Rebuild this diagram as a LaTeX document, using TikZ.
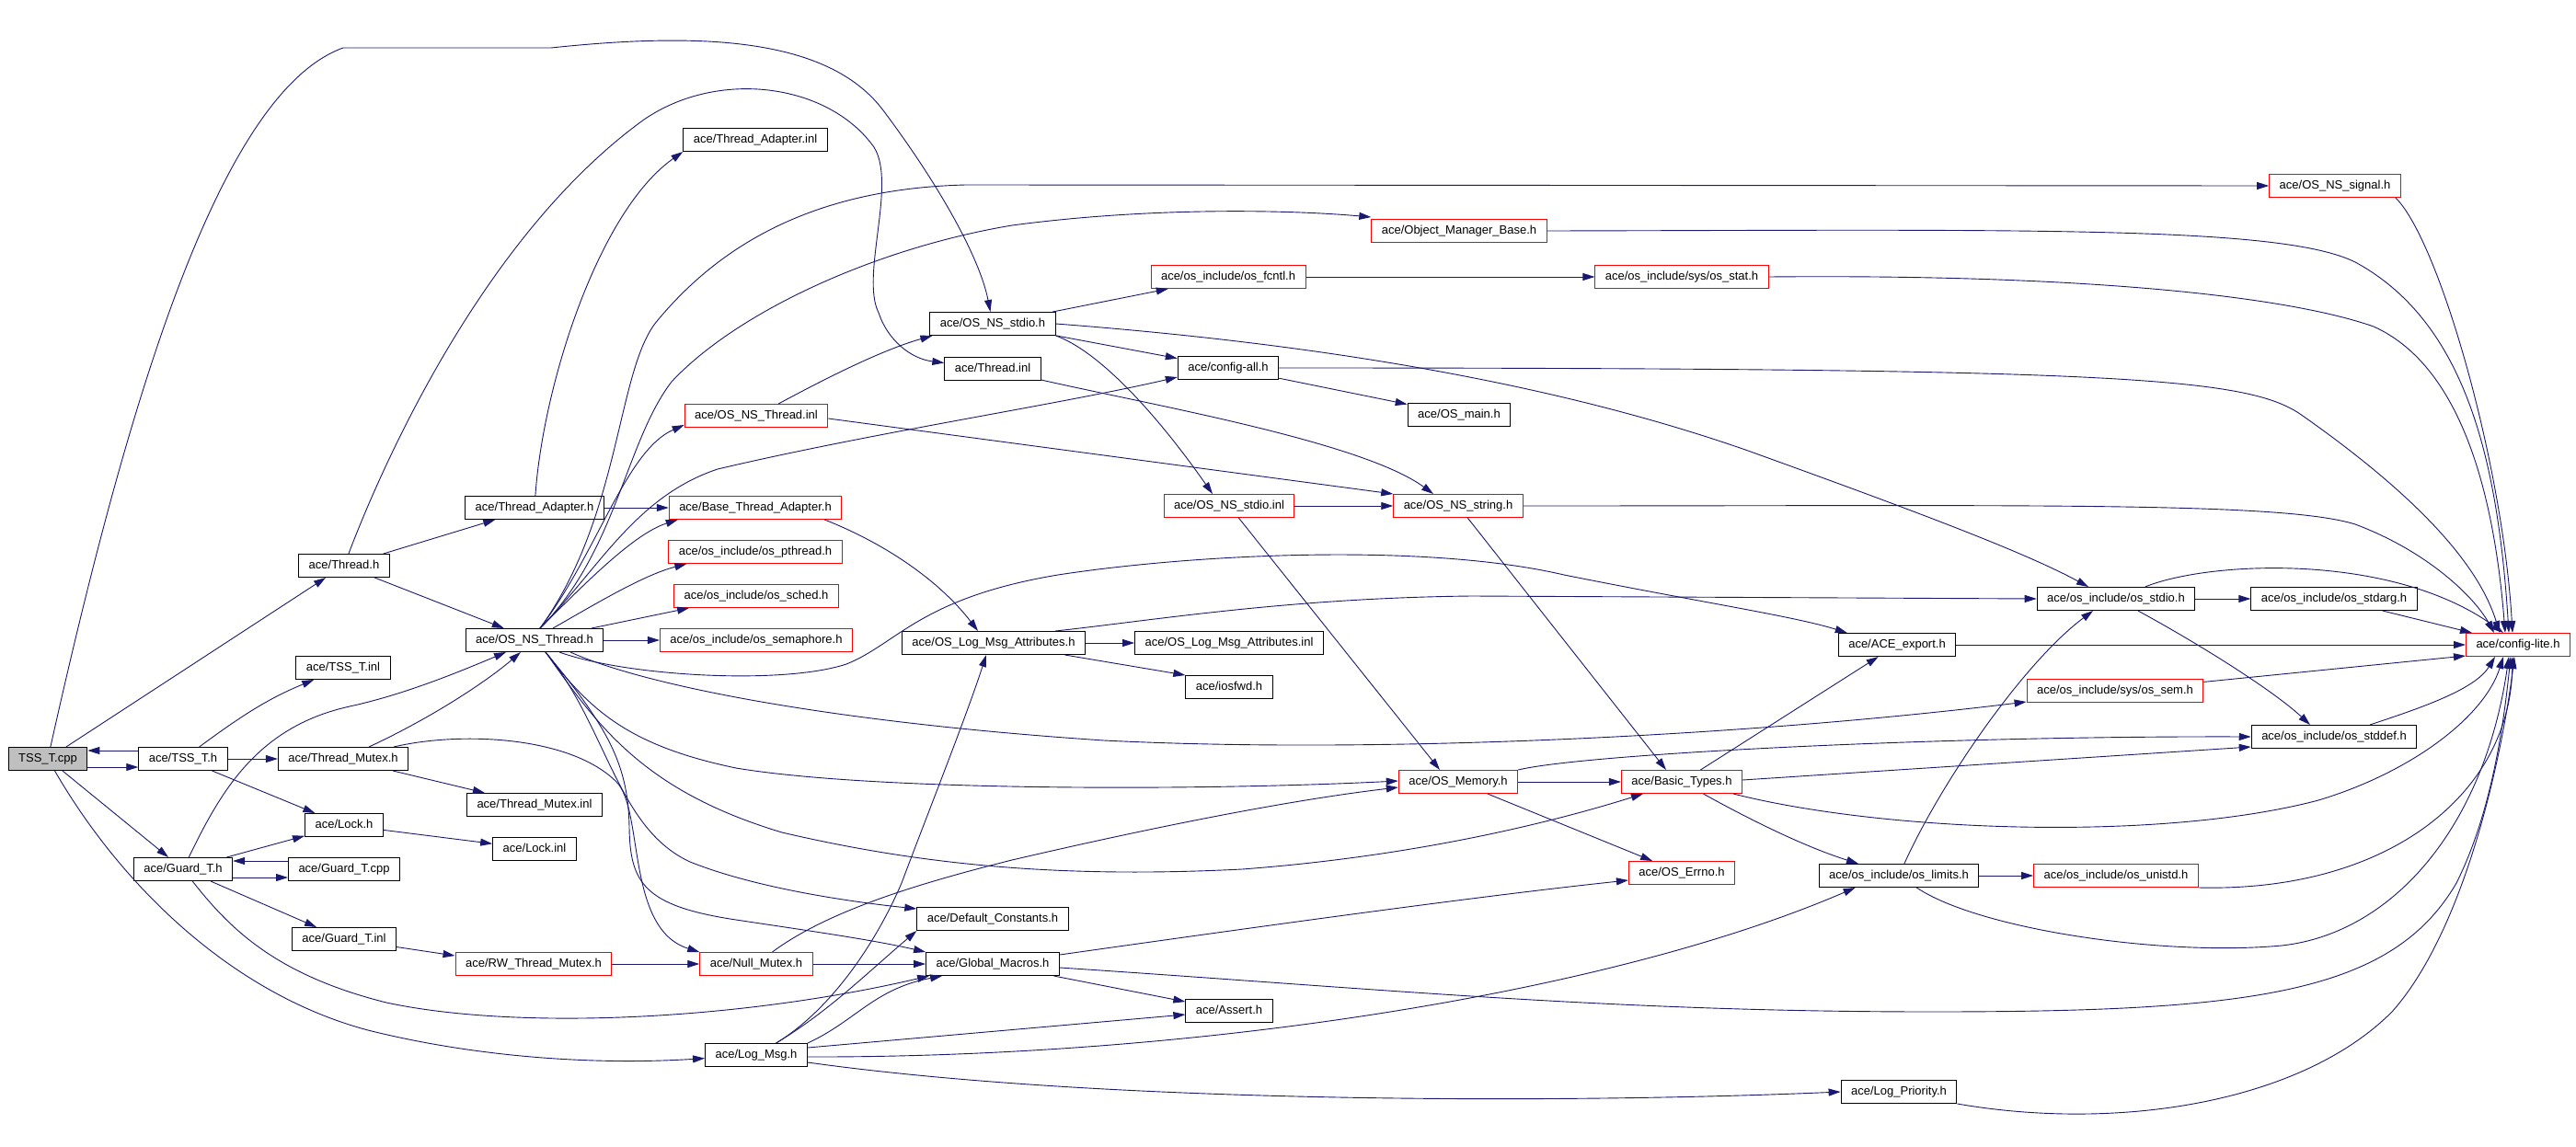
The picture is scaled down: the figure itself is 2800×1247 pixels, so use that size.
\documentclass[tikz,border=0pt]{standalone}
\usepackage{fontspec}
\setmainfont{Liberation Sans}
\usetikzlibrary{arrows.meta}
\definecolor{edgeblue}{RGB}{25,25,112}
\definecolor{startgray}{RGB}{191,191,191}

\begin{document}
\begin{tikzpicture}[x=1pt,y=-1pt,
  box/.style={draw=black,line width=1pt,minimum height=25pt,inner xsep=11pt,inner ysep=0pt,text height=9.5pt,text depth=2.5pt,font=\fontsize{13}{15}\selectfont},
  redbox/.style={box,draw=red},
  dep/.style={draw=edgeblue,line width=0.9pt,-{Triangle[length=13pt,width=8pt]}}]
\useasboundingbox[fill=white] (0,0) rectangle (2800,1247);

% files
\node[box,fill=startgray] (cpp) at (52,825) {TSS\_T.cpp};
\node[box] (tssh) at (199,825) {ace/TSS\_T.h};
\node[box] (threadh) at (374,615) {ace/Thread.h};
\node[box] (tssinl) at (373,726) {ace/TSS\_T.inl};
\node[box] (threadmutexh) at (373,825) {ace/Thread\_Mutex.h};
\node[box] (lockh) at (374,897) {ace/Lock.h};
\node[box] (guardh) at (199,945) {ace/Guard\_T.h};
\node[box] (guardcpp) at (374,945) {ace/Guard\_T.cpp};
\node[box] (guardinl) at (374,1021) {ace/Guard\_T.inl};
\node[box] (adapterh) at (581,552) {ace/Thread\_Adapter.h};
\node[box] (osnsthreadh) at (581,696) {ace/OS\_NS\_Thread.h};
\node[box] (mutexinl) at (581,875) {ace/Thread\_Mutex.inl};
\node[box] (lockinl) at (581,923) {ace/Lock.inl};
\node[redbox] (rwmutexh) at (580,1048) {ace/RW\_Thread\_Mutex.h};
\node[box] (adapterinl) at (821,152) {ace/Thread\_Adapter.inl};
\node[redbox] (osnsthreadinlh) at (822,452) {ace/OS\_NS\_Thread.inl};
\node[redbox] (baseadapterh) at (821,552) {ace/Base\_Thread\_Adapter.h};
\node[redbox] (pthreadh) at (821,600) {ace/os\_include/os\_pthread.h};
\node[redbox] (schedh) at (822,648) {ace/os\_include/os\_sched.h};
\node[redbox] (semaphoreh) at (822,696) {ace/os\_include/os\_semaphore.h};
\node[redbox] (nullmutexh) at (822,1048) {ace/Null\_Mutex.h};
\node[box] (logmsgh) at (822,1147) {ace/Log\_Msg.h};
\node[box] (osnsstdioh) at (1079,352) {ace/OS\_NS\_stdio.h};
\node[box] (threadinl) at (1079,401) {ace/Thread.inl};
\node[box] (logattrh) at (1080,699) {ace/OS\_Log\_Msg\_Attributes.h};
\node[box] (defconsth) at (1079,999) {ace/Default\_Constants.h};
\node[box] (globalh) at (1079,1048) {ace/Global\_Macros.h};
\node[redbox] (fcntlh) at (1335,301) {ace/os\_include/os\_fcntl.h};
\node[box] (configallh) at (1335,400) {ace/config-all.h};
\node[redbox] (osnsstdioinlh) at (1336,550) {ace/OS\_NS\_stdio.inl};
\node[box] (logattrinl) at (1336,699) {ace/OS\_Log\_Msg\_Attributes.inl};
\node[box] (iosfwdh) at (1336,747) {ace/iosfwd.h};
\node[box] (asserth) at (1336,1099) {ace/Assert.h};
\node[redbox] (objmgrh) at (1586,251) {ace/Object\_Manager\_Base.h};
\node[box] (osmainh) at (1586,451) {ace/OS\_main.h};
\node[redbox] (osnsstringh) at (1585,550) {ace/OS\_NS\_string.h};
\node[redbox] (osmemoryh) at (1585,850) {ace/OS\_Memory.h};
\node[redbox] (stath) at (1828,301) {ace/os\_include/sys/os\_stat.h};
\node[redbox] (basictypesh) at (1828,850) {ace/Basic\_Types.h};
\node[redbox] (errnoh) at (1828,949) {ace/OS\_Errno.h};
\node[box] (exporth) at (2062,701) {ace/ACE\_export.h};
\node[box] (limitsh) at (2064,952) {ace/os\_include/os\_limits.h};
\node[box] (logpriorityh) at (2064,1187) {ace/Log\_Priority.h};
\node[box] (stdioh) at (2300,651) {ace/os\_include/os\_stdio.h};
\node[redbox] (semh) at (2299,751) {ace/os\_include/sys/os\_sem.h};
\node[redbox] (unistdh) at (2300,952) {ace/os\_include/os\_unistd.h};
\node[redbox] (signalh) at (2538,202) {ace/OS\_NS\_signal.h};
\node[box] (stdargh) at (2537,651) {ace/os\_include/os\_stdarg.h};
\node[box] (stddefh) at (2537,801) {ace/os\_include/os\_stddef.h};
\node[redbox] (configliteh) at (2737,701) {ace/config-lite.h};

% TSS_T.cpp and TSS_T.h
\draw[dep] ([yshift=-9pt]cpp.east) -- ([yshift=-9pt]tssh.west);
\draw[dep] ([yshift=9pt]tssh.west) -- ([yshift=9pt]cpp.east);
\draw[dep] (cpp) -- (threadh);
\draw[dep] (cpp) -- (guardh);
\draw[dep] (cpp) .. controls (140,430) and (240,100) .. (373,52) -- (599,52) .. controls (760,35) and (900,40) .. (960,120) .. controls (1020,200) and (1065,280) .. (osnsstdioh);
\draw[dep] (cpp) .. controls (130,960) and (250,1080) .. (400,1120) .. controls (520,1150) and (650,1158) .. (logmsgh);
\draw[dep] (tssh) .. controls (260,780) and (290,760) .. (tssinl);
\draw[dep] (tssh) -- (threadmutexh);
\draw[dep] (tssh) -- (lockh);

% Thread.h, Thread_Mutex.h, Guard_T.h
\draw[dep] (threadh) -- (adapterh);
\draw[dep] (threadh) -- (osnsthreadh);
\draw[dep] (threadh) .. controls (410,520) and (520,260) .. (700,130) .. controls (780,75) and (900,90) .. (950,160) .. controls (975,200) and (935,300) .. (955,340) .. controls (965,370) and (990,390) .. (threadinl);
\draw[dep] (adapterh) .. controls (590,420) and (650,230) .. (adapterinl.south west);
\draw[dep] (adapterh) -- (baseadapterh);
\draw[dep] (threadmutexh) .. controls (470,780) and (530,740) .. (osnsthreadh);
\draw[dep] (threadmutexh) -- (mutexinl);
\draw[dep] (threadmutexh) .. controls (500,795) and (620,800) .. (670,850) .. controls (700,880) and (680,1010) .. (nullmutexh.north west);
\draw[dep] (lockh) -- (lockinl);
\draw[dep] (guardh) -- (lockh);
\draw[dep] ([yshift=-9pt]guardh.east) -- ([yshift=-9pt]guardcpp.west);
\draw[dep] ([yshift=9pt]guardcpp.west) -- ([yshift=9pt]guardh.east);
\draw[dep] (guardh) -- (guardinl);
\draw[dep] (guardh) .. controls (240,860) and (280,790) .. (380,768) .. controls (440,755) and (500,730) .. (osnsthreadh);
\draw[dep] (guardh) .. controls (250,1010) and (300,1060) .. (420,1090) .. controls (560,1120) and (800,1110) .. ([xshift=4pt]globalh.south west);
\draw[dep] (guardinl) -- ([yshift=-4pt]rwmutexh.north west);
\draw[dep] (rwmutexh) -- (nullmutexh);

% OS_NS_Thread.h
\draw[dep] ([xshift=6pt]osnsthreadh.north) .. controls (676,560) and (670,400) .. (715,348) .. controls (780,270) and (880,205) .. (1050,201) -- (signalh.west);
\draw[dep] ([xshift=6pt]osnsthreadh.north) .. controls (670,600) and (680,480) .. (730,415) .. controls (800,340) and (950,270) .. (1100,245) .. controls (1250,225) and (1400,228) .. ([yshift=2pt]objmgrh.north west);
\draw[dep] ([xshift=6pt]osnsthreadh.north) .. controls (650,620) and (690,540) .. (780,510) .. controls (950,470) and (1150,440) .. ([yshift=-10pt]configallh.west);
\draw[dep] ([xshift=6pt]osnsthreadh.north) .. controls (650,600) and (680,490) .. ([yshift=3pt]osnsthreadinlh.south west);
\draw[dep] ([xshift=6pt]osnsthreadh.north) .. controls (640,630) and (690,580) .. ([xshift=10pt]baseadapterh.south west);
\draw[dep] ([xshift=20pt]osnsthreadh.north) .. controls (650,655) and (700,625) .. ([xshift=20pt]pthreadh.south west);
\draw[dep] ([xshift=62pt]osnsthreadh.north) -- ([xshift=17pt]schedh.south west);
\draw[dep] (osnsthreadh) -- (semaphoreh);
\draw[dep] ([xshift=27pt]osnsthreadh.south) .. controls (680,735) and (850,745) .. (920,722) .. controls (975,700) and (1000,650) .. (1150,625) .. controls (1300,602) and (1550,590) .. (1700,625) .. controls (1850,655) and (1950,670) .. ([xshift=10pt]exporth.north west);
\draw[dep] ([xshift=39pt]osnsthreadh.south) .. controls (700,745) and (900,785) .. (1200,805) .. controls (1500,820) and (1900,800) .. ([yshift=-12pt]semh.west);
\draw[dep] ([xshift=12pt]osnsthreadh.south) .. controls (640,770) and (680,810) .. (800,835) .. controls (950,860) and (1300,860) .. ([yshift=1pt]osmemoryh.west);
\draw[dep] ([xshift=12pt]osnsthreadh.south) .. controls (650,790) and (700,860) .. (850,905) .. controls (1000,940) and (1150,955) .. (1350,945) .. controls (1550,930) and (1700,890) .. ([xshift=24pt]basictypesh.south west);
\draw[dep] ([xshift=12pt]osnsthreadh.south) .. controls (660,790) and (670,900) .. (750,937) .. controls (820,965) and (920,980) .. ([yshift=11pt]defconsth.west);
\draw[dep] ([xshift=12pt]osnsthreadh.south) .. controls (660,790) and (683,830) .. (684,900) .. controls (685,960) and (700,985) .. (800,1000) .. controls (880,1012) and (950,1022) .. (globalh.north west);

% Null_Mutex.h, Log_Msg.h, Global_Macros.h
\draw[dep] (nullmutexh) -- (globalh);
\draw[dep] (nullmutexh) .. controls (900,990) and (1000,960) .. (1100,935) .. controls (1250,900) and (1400,870) .. ([yshift=-6pt]osmemoryh.west);
\draw[dep] (logmsgh) .. controls (900,1100) and (950,1030) .. (980,960) .. controls (1010,880) and (1050,780) .. ([xshift=-8pt]logattrh.south);
\draw[dep] (logmsgh) .. controls (900,1100) and (940,1060) .. (defconsth.south west);
\draw[dep] (logmsgh.north east) .. controls (930,1110) and (950,1075) .. ([xshift=18pt]globalh.south west);
\draw[dep] ([yshift=8pt]logmsgh.east) -- ([yshift=-4pt]asserth.west);
\draw[dep] ([yshift=-2pt]logmsgh.east) .. controls (1300,1150) and (1750,1080) .. ([xshift=40pt]limitsh.south west);
\draw[dep] ([yshift=-8pt]logmsgh.east) .. controls (1200,1200) and (1700,1200) .. (logpriorityh.west);
\draw[dep] (globalh) -- ([yshift=10pt]asserth.west);
\draw[dep] ([yshift=10pt]globalh.east) .. controls (1350,1010) and (1600,975) .. ([yshift=-8pt]errnoh.west);
\draw[dep] ([yshift=-4pt]globalh.east) .. controls (1500,1075) and (1750,1100) .. (2100,1100) .. controls (2450,1100) and (2600,1080) .. (2670,960) .. controls (2710,880) and (2722,780) .. ([xshift=-8pt]configliteh.south);
\draw[dep] (logpriorityh.south east) .. controls (2300,1230) and (2500,1200) .. (2600,1100) .. controls (2680,1010) and (2720,820) .. ([xshift=-4pt]configliteh.south);

% middle columns
\draw[dep] ([xshift=-19pt]baseadapterh.south east) .. controls (960,590) and (1020,630) .. ([xshift=-17pt]logattrh.north);
\draw[dep] (logattrh) -- (logattrinl);
\draw[dep] (logattrh) -- (iosfwdh.north west);
\draw[dep] ([xshift=67pt]logattrh.north) .. controls (1250,675) and (1400,650) .. (1600,648) -- (stdioh.west);
\draw[dep] (osnsstdioh) -- (fcntlh);
\draw[dep] (osnsstdioh) -- (configallh);
\draw[dep] (osnsstdioh.south east) .. controls (1190,380) and (1250,440) .. ([xshift=-18pt]osnsstdioinlh.north);
\draw[dep] (osnsstdioh.east) .. controls (1450,375) and (1700,420) .. (1900,490) .. controls (2080,555) and (2200,600) .. ([xshift=-30pt]stdioh.north);
\draw[dep] (threadinl) .. controls (1250,440) and (1480,480) .. ([xshift=-27pt]osnsstringh.north);
\draw[dep] (osnsthreadinlh) .. controls (900,410) and (960,380) .. ([xshift=3pt]osnsstdioh.south west);
\draw[dep] ([yshift=-3pt]osnsthreadinlh.east) -- (osnsstringh.north west);
\draw[dep] (osnsstdioinlh) -- (osnsstringh);
\draw[dep] (osnsstdioinlh) -- ([xshift=-20pt]osmemoryh.north);
\draw[dep] (osnsstringh) -- ([xshift=-17pt]basictypesh.north);
\draw[dep] (configallh) -- (osmainh);
\draw[dep] (fcntlh) -- (stath);

% OS_Memory.h, Basic_Types.h, os_include
\draw[dep] (osmemoryh) -- (basictypesh);
\draw[dep] (osmemoryh) -- (errnoh);
\draw[dep] (osmemoryh.north east) .. controls (1720,820) and (2100,800) .. (stddefh.west);
\draw[dep] ([yshift=2pt]basictypesh.east) -- ([yshift=-11pt]stddefh.west);
\draw[dep] (basictypesh) -- (exporth);
\draw[dep] ([xshift=-10pt]basictypesh.south east) .. controls (2050,905) and (2350,915) .. (2520,870) .. controls (2620,840) and (2700,780) .. ([xshift=-16pt]configliteh.south);
\draw[dep] (basictypesh) .. controls (1900,890) and (1960,920) .. ([xshift=-44pt]limitsh.north);
\draw[dep] (limitsh) .. controls (2110,850) and (2200,720) .. ([xshift=-25pt]stdioh.south);
\draw[dep] (limitsh) -- (unistdh);
\draw[dep] (limitsh) .. controls (2150,1010) and (2350,1040) .. (2480,1028) .. controls (2600,1015) and (2700,900) .. ([xshift=-10pt]configliteh.south);
\draw[dep] (unistdh.south east) .. controls (2600,970) and (2728,860) .. ([xshift=-6pt]configliteh.south);
\draw[dep] (stdioh) -- (stdargh);
\draw[dep] (stdioh) .. controls (2390,700) and (2470,750) .. ([xshift=-26pt]stddefh.north);
\draw[dep] (stdioh) .. controls (2400,610) and (2600,600) .. ([xshift=-16pt]configliteh.north);
\draw[dep] (stdargh) -- ([xshift=7pt]configliteh.north west);
\draw[dep] (exporth) -- (configliteh);
\draw[dep] (semh) -- ([yshift=-12pt]configliteh.west);
\draw[dep] (stddefh) .. controls (2630,770) and (2690,750) .. ([xshift=-25pt]configliteh.south);

% into config-lite.h from above
\draw[dep] ([xshift=-6pt]signalh.south east) .. controls (2650,260) and (2720,500) .. ([xshift=-6pt]configliteh.north);
\draw[dep] (objmgrh.east) .. controls (2200,250) and (2480,245) .. (2560,285) .. controls (2680,350) and (2715,500) .. ([xshift=-10pt]configliteh.north);
\draw[dep] (stath.east) .. controls (2250,298) and (2480,320) .. (2580,355) .. controls (2680,400) and (2712,550) .. ([xshift=-14pt]configliteh.north);
\draw[dep] (configallh.east) .. controls (2300,400) and (2440,410) .. (2500,450) .. controls (2600,520) and (2690,600) .. ([xshift=-20pt]configliteh.north);
\draw[dep] (osnsstringh.east) .. controls (2200,550) and (2480,545) .. (2560,570) .. controls (2640,600) and (2690,650) .. ([xshift=-26pt]configliteh.north);
\end{tikzpicture}
\end{document}
